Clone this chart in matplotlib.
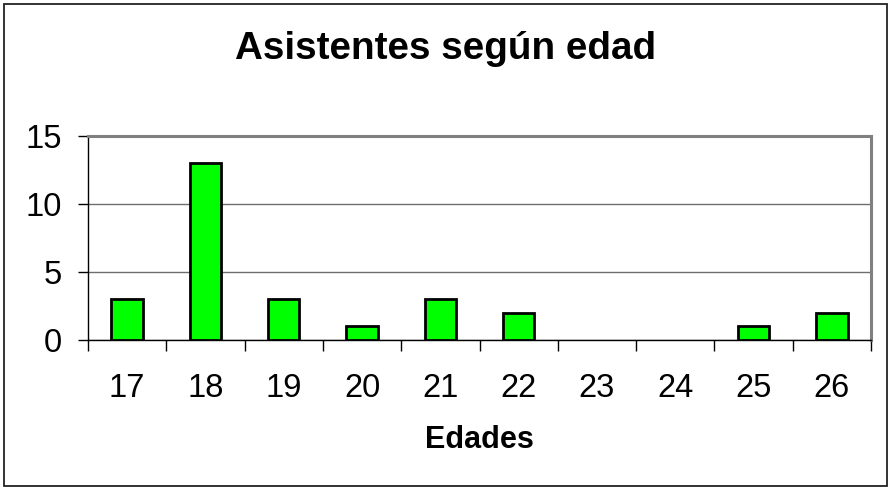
import matplotlib
matplotlib.use("Agg")
import matplotlib.pyplot as plt
from matplotlib.patches import Rectangle
import numpy as np

edades = ["17", "18", "19", "20", "21", "22", "23", "24", "25", "26"]
asistentes = [3, 13, 3, 1, 3, 2, 0, 0, 1, 2]
yticks = [0, 5, 10, 15]

plt.rcParams['font.family'] = ['Liberation Sans', 'DejaVu Sans']

fig = plt.figure(figsize=(8.91, 4.87), dpi=100)
fig.patch.set_facecolor('white')
fig.patches.append(Rectangle((3.5/891, 1.5/487), (887-3.5)/891, (483.5-1.5)/487,
                             transform=fig.transFigure, fill=False,
                             edgecolor='#222222', linewidth=1.3))

ax = fig.add_axes([88/891, (487-340)/487, (871-88)/891, (340-136)/487])
x = np.arange(len(edades))
lws = [2 if v > 0 else 0 for v in asistentes]
ax.bar(x, asistentes, width=0.4, color='#00FF00', edgecolor='black', linewidth=lws, zorder=3)

ax.set_xlim(-0.5, len(edades) - 0.5)
ax.set_ylim(0, 15)
ax.set_yticks(yticks)
ax.set_yticklabels([str(v) for v in yticks], fontsize=23.5)
ax.tick_params(axis='y', direction='out', length=7, width=1, color='black', pad=12)

ax.set_xticks(np.arange(-0.5, len(edades), 1.0))
ax.set_xticklabels([])
ax.tick_params(axis='x', which='major', direction='out', length=8, width=1, color='black')
ax.set_xticks(x, minor=True)
ax.set_xticklabels(edades, minor=True, fontsize=23.5)
ax.tick_params(axis='x', which='minor', length=0, pad=24)

ax.grid(axis='y', color='#6e6e6e', linewidth=1, zorder=0)
ax.set_axisbelow(True)

for s in ['top', 'right']:
    ax.spines[s].set_color('#808080')
    ax.spines[s].set_linewidth(2.2)
for s in ['left', 'bottom']:
    ax.spines[s].set_color('black')
    ax.spines[s].set_linewidth(1)

ax.set_xlabel('Edades', fontsize=22, fontweight='bold', labelpad=15)
fig.text(446/891, 1 - 59/487, 'Asistentes según edad', fontsize=27.8, fontweight='bold',
         ha='center', va='baseline')

fig.savefig('out.png', dpi=100, facecolor='white')
